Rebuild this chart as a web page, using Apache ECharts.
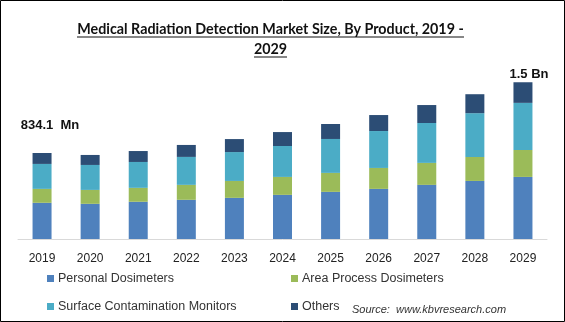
<!DOCTYPE html>
<html>
<head>
<meta charset="utf-8">
<script src="https://cdn.jsdelivr.net/npm/echarts@6/dist/echarts.min.js"></script>
<style>
html,body{margin:0;padding:0;background:#fff;}
#chart{width:565px;height:322px;}
</style>
</head>
<body>
<div id="chart"></div>
<script>
const categories = ['2019','2020','2021','2022','2023','2024','2025','2026','2027','2028','2029'];
const personalDosimeters = [351, 341, 361, 380, 399, 428, 457, 486, 525, 563, 602];
const areaProcessDosimeters = [135, 135, 135, 145, 164, 174, 184, 203, 213, 232, 261];
const surfaceContaminationMonitors = [242, 242, 251, 271, 280, 300, 329, 358, 387, 425, 457];
const others = [106, 97, 106, 116, 126, 135, 145, 155, 174, 184, 200];
const totalLabels = {'2019': '834.1  Mn', '2029': '1.5 Bn'};
const seriesNames = ['Personal Dosimeters','Area Process Dosimeters','Surface Contamination Monitors','Others'];
const colors = ['#4f81bd','#9bbb59','#4bacc6','#2c4d75'];

const chart = echarts.init(document.getElementById('chart'));
const font = 'Liberation Sans, Arial, sans-serif';

const othersData = others.map((v, i) => {
  const c = categories[i];
  if (totalLabels[c]) {
    return {
      value: v,
      label: {
        show: true,
        position: 'top',
        formatter: totalLabels[c],
        offset: i === 0 ? [8, -16] : [6, 4],
        fontFamily: font,
        fontWeight: 'bold',
        fontSize: 13,
        color: '#111'
      }
    };
  }
  return v;
});

const dataArrays = [personalDosimeters, areaProcessDosimeters, surfaceContaminationMonitors, othersData];

const legendPos = [[47, 272], [291, 272], [47, 300], [291, 300]];
const legends = seriesNames.map((name, k) => ({
  left: legendPos[k][0],
  top: legendPos[k][1],
  padding: 0,
  icon: 'rect',
  itemWidth: 7,
  itemHeight: 7,
  data: [name],
  textStyle: {fontFamily: font, fontSize: 12.5, color: '#333', padding: [0, 0, 0, -1]}
}));

const titleFont = 'bold 14.3px Lato, sans-serif';

chart.setOption({
  animation: false,
  color: colors,
  grid: {left: 18, right: 18, top: 74, bottom: 83},
  xAxis: {
    type: 'category',
    data: categories,
    axisLine: {lineStyle: {color: '#d9d9d9'}},
    axisTick: {show: false},
    axisLabel: {fontFamily: font, fontSize: 12, color: '#222', margin: 14}
  },
  yAxis: {
    type: 'value',
    min: 0,
    max: 1600,
    show: false,
    splitLine: {show: false}
  },
  legend: legends,
  graphic: [
    {type: 'rect', shape: {x: 0.5, y: 0.5, width: 564, height: 321}, style: {fill: 'none', stroke: '#000', lineWidth: 1}, silent: true},
    {type: 'text', x: 270.5, y: 29.5, style: {text: 'Medical Radiation Detection Market Size, By Product, 2019 -', font: titleFont, fill: '#111', align: 'center', verticalAlign: 'middle'}},
    {type: 'text', x: 270.5, y: 49.5, style: {text: '2029', font: titleFont, fill: '#111', align: 'center', verticalAlign: 'middle'}},
    {type: 'rect', shape: {x: 77, y: 36.5, width: 387, height: 1}, style: {fill: '#111'}},
    {type: 'rect', shape: {x: 254, y: 56.5, width: 33, height: 1}, style: {fill: '#111'}},
    {type: 'text', left: 352, top: 304, style: {text: 'Source:  www.kbvresearch.com', font: 'italic 11px ' + font, fill: '#333'}}
  ],
  series: seriesNames.map((name, k) => ({
    name: name,
    type: 'bar',
    stack: 'total',
    barWidth: 19,
    data: dataArrays[k],
    itemStyle: {color: colors[k]}
  }))
});
</script>
</body>
</html>
